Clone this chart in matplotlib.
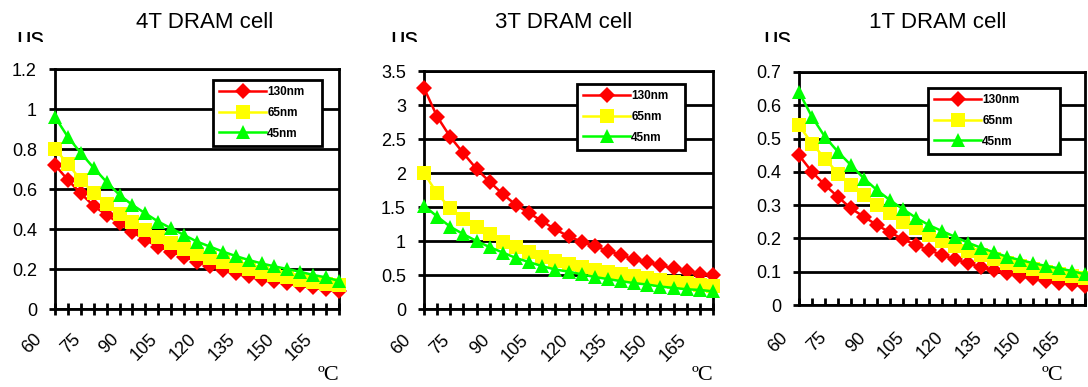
import numpy as np
import matplotlib.pyplot as plt
import matplotlib.transforms as mtransforms
from matplotlib.transforms import Bbox

# temperature categories (degC)
temps = [60, 65, 70, 75, 80, 85, 90, 95, 100, 105, 110, 115, 120,
         125, 130, 135, 140, 145, 150, 155, 160, 165, 170]
tick_labels = ['60', '75', '90', '105', '120', '135', '150', '165']
series_names = ['130nm', '65nm', '45nm']

# 4T DRAM cell
t4_130 = [0.72, 0.645, 0.578, 0.515, 0.47, 0.428, 0.385, 0.345, 0.312, 0.287, 0.262, 0.237,
          0.215, 0.195, 0.178, 0.165, 0.152, 0.14, 0.13, 0.118, 0.108, 0.10, 0.092]
t4_65 = [0.80, 0.725, 0.645, 0.58, 0.525, 0.475, 0.435, 0.395, 0.36, 0.33, 0.30, 0.275,
         0.255, 0.235, 0.215, 0.20, 0.185, 0.17, 0.158, 0.147, 0.137, 0.127, 0.118]
t4_45 = [0.96, 0.86, 0.78, 0.705, 0.635, 0.57, 0.52, 0.478, 0.437, 0.403, 0.37, 0.337,
         0.312, 0.287, 0.265, 0.245, 0.228, 0.213, 0.2, 0.186, 0.17, 0.158, 0.14]

# 3T DRAM cell
t3_130 = [3.25, 2.83, 2.53, 2.29, 2.06, 1.87, 1.69, 1.53, 1.41, 1.29, 1.17, 1.07,
          0.99, 0.92, 0.86, 0.79, 0.73, 0.69, 0.64, 0.60, 0.56, 0.52, 0.50]
t3_65 = [2.0, 1.70, 1.48, 1.33, 1.21, 1.10, 0.99, 0.91, 0.84, 0.77, 0.71, 0.66,
         0.62, 0.58, 0.54, 0.51, 0.48, 0.45, 0.42, 0.40, 0.38, 0.36, 0.34]
t3_45 = [1.52, 1.36, 1.21, 1.10, 1.0, 0.91, 0.83, 0.75, 0.69, 0.63, 0.58, 0.55,
         0.51, 0.47, 0.44, 0.41, 0.38, 0.36, 0.33, 0.31, 0.29, 0.28, 0.26]

# 1T DRAM cell
t1_130 = [0.45, 0.40, 0.36, 0.325, 0.29, 0.265, 0.24, 0.218, 0.198, 0.18, 0.165, 0.15,
          0.137, 0.125, 0.114, 0.104, 0.095, 0.087, 0.08, 0.073, 0.067, 0.062, 0.057]
t1_65 = [0.54, 0.485, 0.44, 0.395, 0.36, 0.33, 0.30, 0.275, 0.25, 0.23, 0.21, 0.193,
         0.177, 0.163, 0.15, 0.138, 0.127, 0.117, 0.108, 0.10, 0.093, 0.087, 0.08]
t1_45 = [0.64, 0.565, 0.505, 0.46, 0.42, 0.38, 0.345, 0.315, 0.288, 0.262, 0.24, 0.222,
         0.205, 0.187, 0.172, 0.158, 0.145, 0.135, 0.126, 0.117, 0.11, 0.102, 0.092]

W, H = 1088, 387
fig = plt.figure(figsize=(W / 100, H / 100), dpi=100)
plt.rcParams['font.family'] = ['Liberation Sans', 'DejaVu Sans']


def px_axes(x0, x1, y0, y1):
    # pixel box (top-down) -> figure fraction
    return fig.add_axes([x0 / W, 1 - y1 / H, (x1 - x0) / W, (y1 - y0) / H])


charts = [
    dict(title='4T DRAM cell', data=[t4_130, t4_65, t4_45], box=(55, 339, 69, 309),
         ymax=1.2, ystep=0.2, leg=(213, 322, 80), tdir='inout', loff=(-10, -16),
         tx=205, ux=16, cx=318),
    dict(title='3T DRAM cell', data=[t3_130, t3_65, t3_45], box=(424, 713, 71, 309),
         ymax=3.5, ystep=0.5, leg=(577, 685, 84), tdir='inout', loff=(-10, -17),
         tx=564, ux=390, cx=692),
    dict(title='1T DRAM cell', data=[t1_130, t1_65, t1_45], box=(799, 1085, 72, 305),
         ymax=0.7, ystep=0.1, leg=(928, 1060, 88), tdir='in', loff=(-8, -24),
         tx=938, ux=763, cx=1042),
]

colors = ['#FF0000', '#FFFF00', '#00FF00']
markers = ['D', 's', '^']
msizes = [8, 10, 10]

for c in charts:
    ax = px_axes(*c['box'])
    for vals, name, col, mk, ms in zip(c['data'], series_names, colors, markers, msizes):
        ax.plot(temps, vals, color=col, marker=mk, markersize=ms, lw=1.8,
                markeredgewidth=0, label=name, clip_on=False, zorder=3)
    ax.set_xlim(60, 170)
    ax.set_ylim(0, c['ymax'])
    yt = np.arange(0, c['ymax'] + 1e-9, c['ystep'])
    ax.set_yticks(yt)
    ax.set_yticklabels(['{:g}'.format(round(v, 2)) for v in yt], fontsize=13)
    ax.yaxis.grid(True, color='black', lw=2)
    ax.set_axisbelow(True)
    ax.set_xticks(temps)
    ax.set_xticklabels([str(t) if str(t) in tick_labels else '' for t in temps],
                       rotation=45, ha='right', va='top', fontsize=13)
    ax.tick_params(axis='x', direction=c['tdir'], length=8 if c['tdir'] == 'inout' else 5,
                   width=2, pad=0)
    ax.tick_params(axis='y', direction='out', length=4, width=2, pad=9)
    dx, dy = c['loff']
    off = mtransforms.ScaledTranslation(dx / 100, dy / 100, fig.dpi_scale_trans)
    for lab in ax.get_xticklabels():
        lab.set_transform(lab.get_transform() + off)
    for sp in ax.spines.values():
        sp.set_linewidth(2)

    lx0, lx1, ly0 = c['leg']
    leg = ax.legend(loc='upper left', mode='expand',
                    bbox_to_anchor=(lx0 / W, 1 - ly0 / H, (lx1 - lx0) / W, 0),
                    bbox_transform=fig.transFigure, borderaxespad=0,
                    prop={'size': 8.5, 'weight': 'bold'}, handlelength=4.0,
                    handletextpad=0.1, fancybox=False, framealpha=1, edgecolor='black',
                    borderpad=0.5, labelspacing=0.75)
    leg.get_frame().set_linewidth(2)
    leg.set_zorder(5)

    fig.text(c['tx'] / W, 1 - 23 / H, c['title'], ha='center', va='center', fontsize=16)
    ut = fig.text(c['ux'] / W, 1 - 46 / H, 'us', ha='left', va='baseline', fontsize=19)
    ut.set_clip_box(Bbox.from_extents(0, H - 42, W, H))
    ut.set_clip_on(True)
    fig.text(c['cx'] / W, 1 - 376 / H, '\u00baC', ha='left', va='center', fontsize=16,
             family='Liberation Serif')

plt.savefig('out.png', dpi=100)
